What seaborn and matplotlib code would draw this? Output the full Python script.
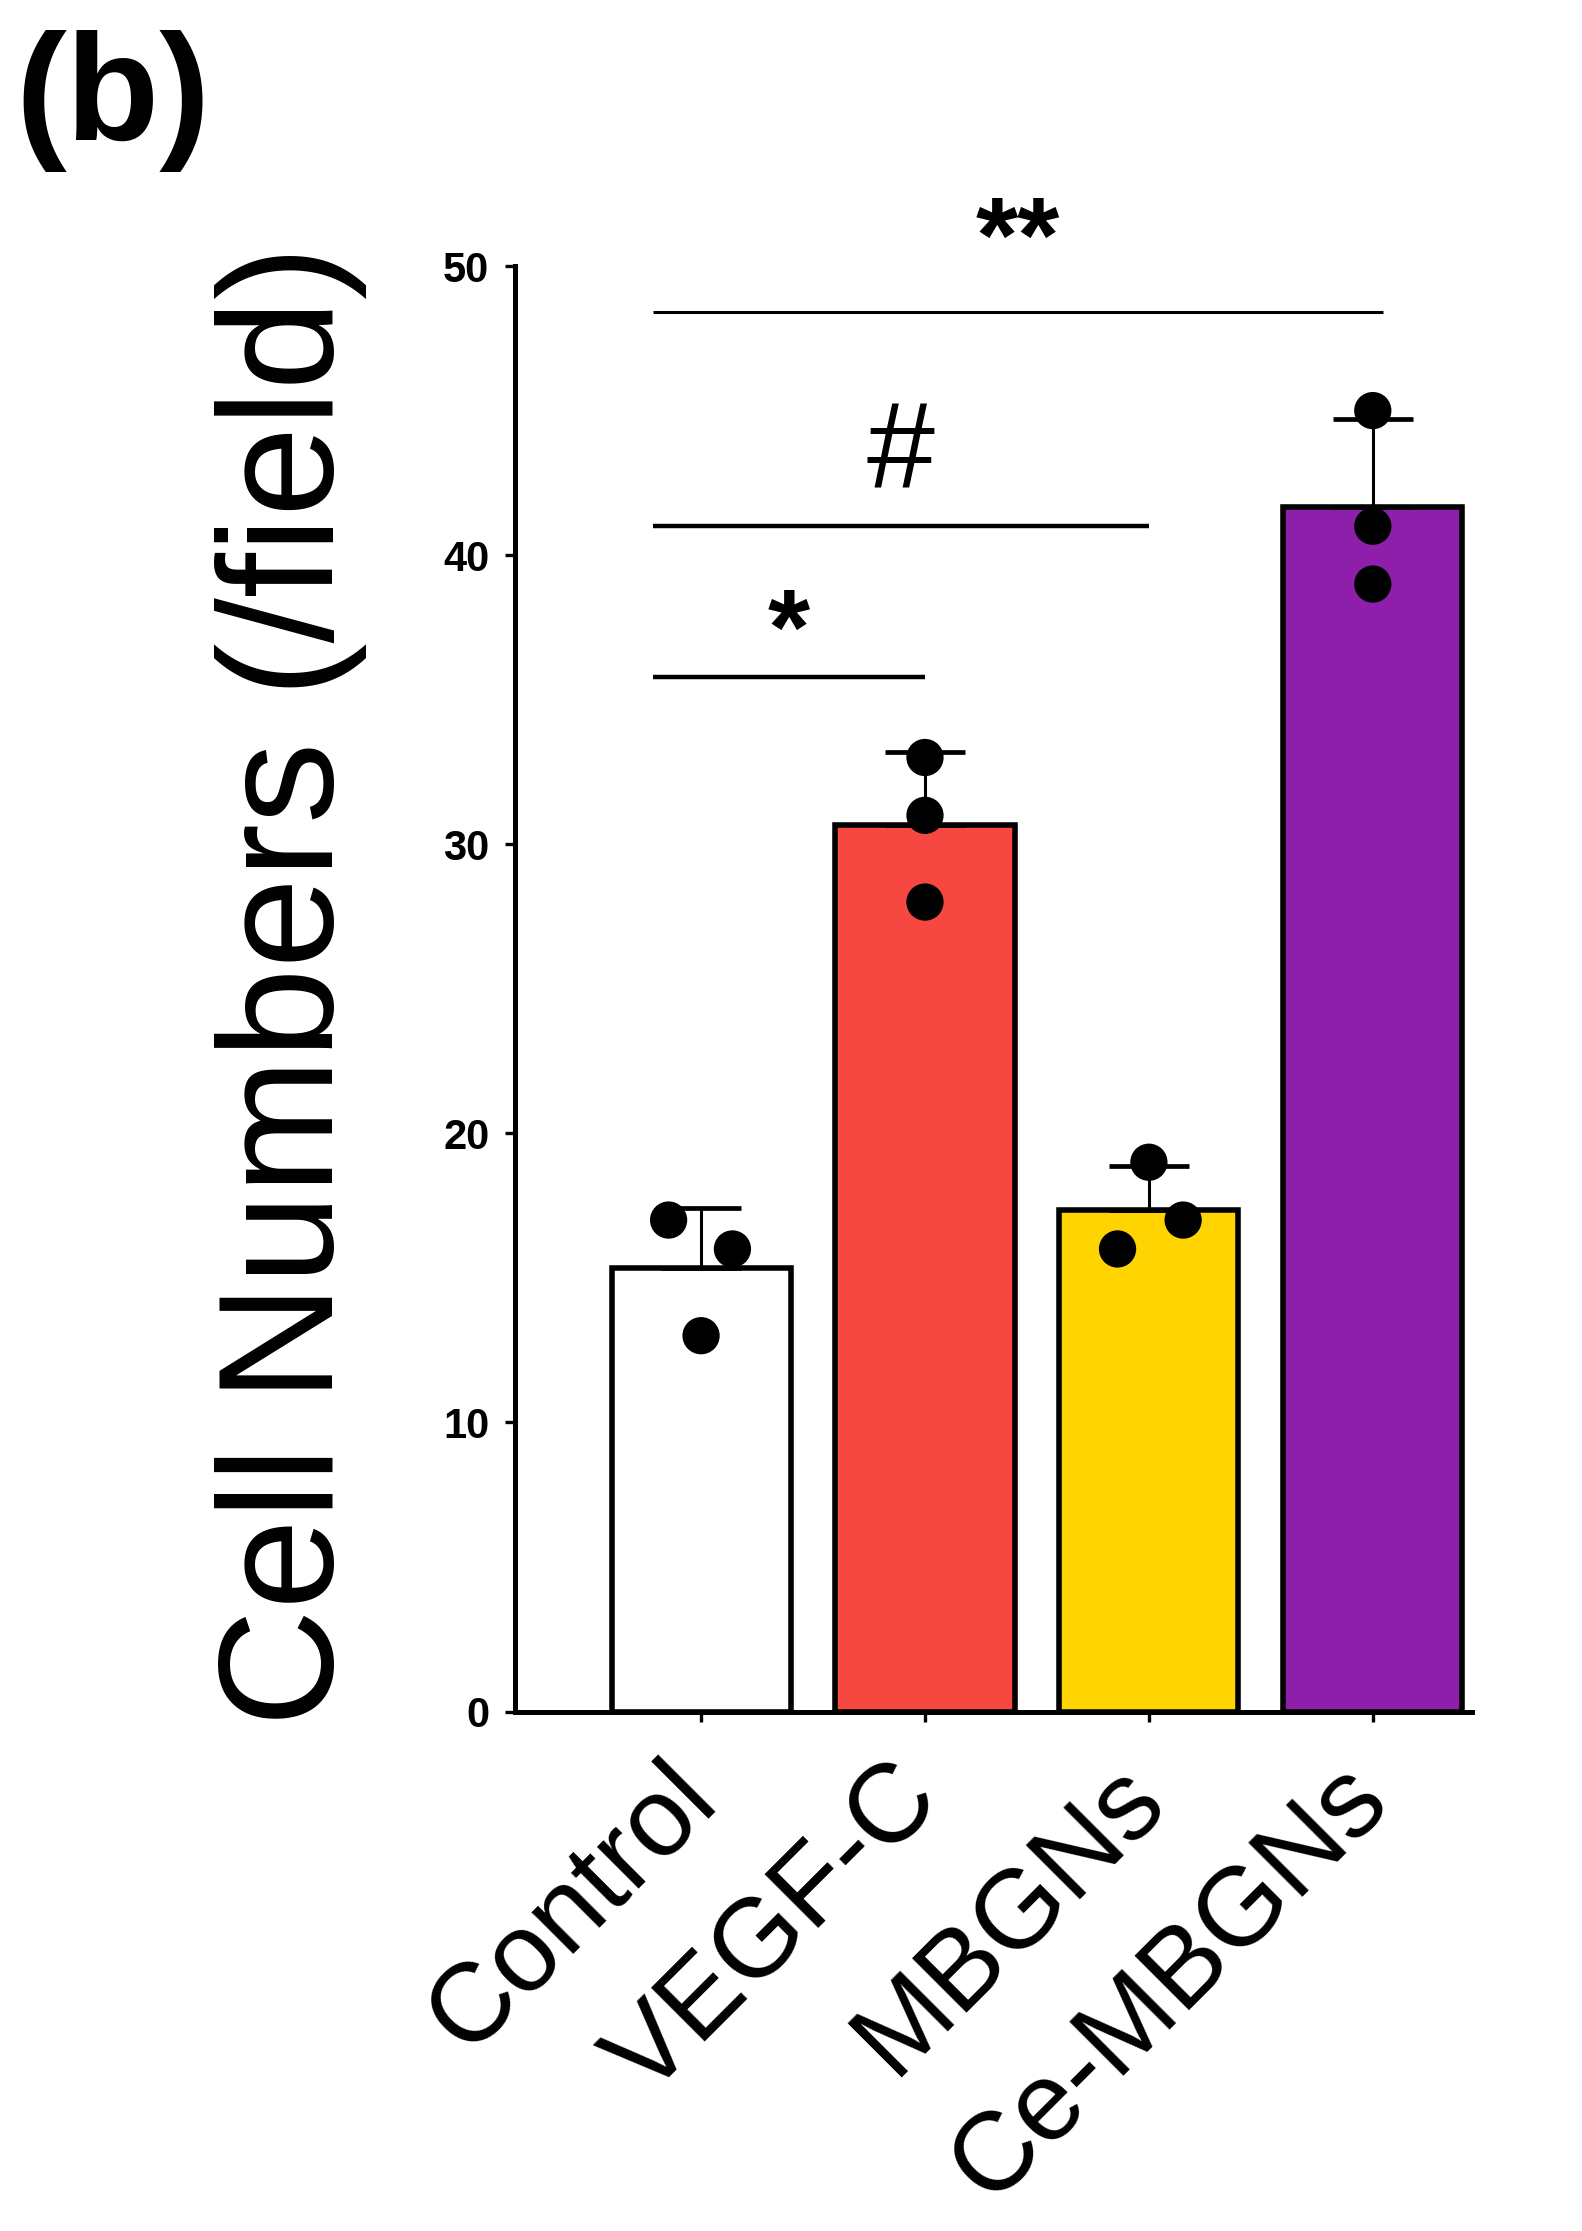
import numpy as np
import pandas as pd
import matplotlib
matplotlib.use("Agg")
import matplotlib.pyplot as plt
import matplotlib.transforms as mtransforms
import seaborn as sns

# ---------------- data ----------------
groups = ["Control", "VEGF-C", "MBGNs", "Ce-MBGNs"]
control = [17, 16, 13]
vegf_c = [33, 31, 28]
mbgns = [19, 17, 16]
ce_mbgns = [45, 41, 39]
bar_colors = ["#FFFFFF", "#F64840", "#FFD400", "#8D1FAB"]
y_ticks = [0, 10, 20, 30, 40, 50]
y_label = "Cell Numbers (/field)"
panel_label = "(b)"
sig_pairs = [(0, 1), (0, 2), (0, 3)]
sig_heights = [35.8, 41.0, 48.4]
sig_labels = ["*", "#", "**"]

# ---------------- layout ----------------
dot_offsets = [[-0.145, 0.14, 0.0], [0.0, 0.0, 0.0], [0.0, 0.153, -0.14], [0.0, 0.0, 0.0]]
line_start_off = -0.215
line_end_off = [0.0, 0.0, 0.045]

sns.set_theme(style="ticks")
plt.rcParams["font.family"] = ["Liberation Sans", "DejaVu Sans"]

values_by_group = [control, vegf_c, mbgns, ce_mbgns]
df = pd.DataFrame({
    "group": [g for g, v in zip(groups, values_by_group) for _ in v],
    "value": [x for v in values_by_group for x in v],
    "xpos": [i + o for i, (v, offs) in enumerate(zip(values_by_group, dot_offsets)) for o in offs],
})

W, H, DPI = 1582, 2231, 100
fig = plt.figure(figsize=(W / DPI, H / DPI), dpi=DPI)
ax = fig.add_axes([0.32554, 0.23285, 0.6052, 0.6479])

sns.barplot(data=df, x="group", y="value", hue="group", order=groups, hue_order=groups,
            palette=bar_colors, legend=False, errorbar=None, width=0.8,
            edgecolor="black", linewidth=4.0, saturation=1, ax=ax, zorder=2)

stats = df.groupby("group", sort=False)["value"].agg(["mean", "std"]).reindex(groups)
ax.errorbar(np.arange(len(groups)), stats["mean"].values,
            yerr=[np.zeros(len(groups)), stats["std"].values],
            fmt="none", ecolor="black", elinewidth=2.2, capsize=29, capthick=3.4, zorder=3)

sns.scatterplot(data=df, x="xpos", y="value", color="black", s=720, edgecolor="none",
                legend=False, ax=ax, zorder=4, clip_on=False)

ax.set_xlim(-0.831, 3.445)
ax.set_ylim(0, 50)
ax.set_yticks(y_ticks)
ax.set_yticklabels([str(t) for t in y_ticks], fontsize=30, fontweight="bold")
ax.set_xticks(range(len(groups)))
ax.set_xticklabels(groups, fontsize=80, rotation=45, ha="right", va="baseline",
                   rotation_mode="anchor")
ax.set_xlabel("")
ax.set_ylabel("")
for s in ["top", "right"]:
    ax.spines[s].set_visible(False)
for s in ["left", "bottom"]:
    ax.spines[s].set_linewidth(3.6)
    ax.spines[s].set_color("black")
ax.tick_params(axis="y", length=7.5, width=2.4, pad=11, colors="black")
ax.tick_params(axis="x", length=7.5, width=2.4, pad=58, colors="black")
off = mtransforms.ScaledTranslation(19 / DPI, 0, fig.dpi_scale_trans)
for lab in ax.get_xticklabels():
    lab.set_transform(lab.get_transform() + off)

# significance annotations
text_dy = [0.45, 1.35, 1.4]
text_fs = [78, 88, 78]
text_fw = ["bold", "normal", "bold"]
line_lw = [3.2, 3.2, 2.2]
for (a, b), h, lab, e, dy, fs, fw, lw in zip(sig_pairs, sig_heights, sig_labels, line_end_off,
                                            text_dy, text_fs, text_fw, line_lw):
    x0, x1 = a + line_start_off, b + e
    ax.plot([x0, x1], [h, h], color="black", lw=lw, clip_on=False, zorder=3,
            solid_capstyle="butt")
    ax.text((x0 + x1) / 2, h + dy, lab, ha="center", va="baseline", fontsize=fs,
            fontweight=fw, color="black", clip_on=False)

fig.text(0.184, 0.5585, y_label, rotation=90, ha="center", va="center", fontsize=117,
         color="black")
fig.text(0.0095, 1 - 140 / H, panel_label, ha="left", va="baseline", fontsize=110,
         fontweight="bold", color="black")

fig.savefig("out.png", dpi=DPI, facecolor="white")
